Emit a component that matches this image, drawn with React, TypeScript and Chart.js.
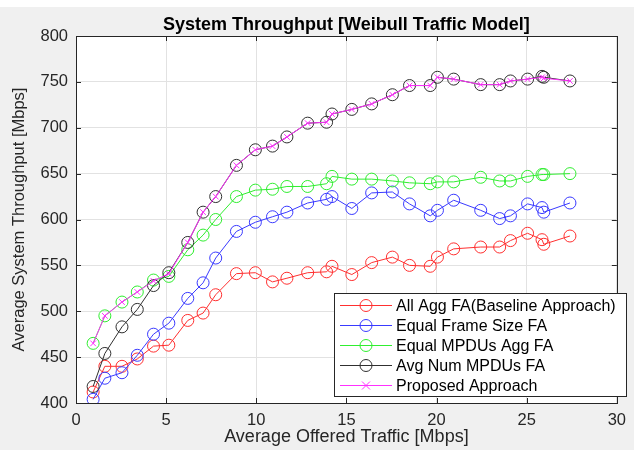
import React, { useEffect, useRef } from "react";
import { Chart, registerables } from "chart.js";

Chart.register(...registerables);

const offeredTraffic = [0.95, 1.6, 2.55, 3.4, 4.3, 5.15, 6.2, 7.05, 7.75, 8.9, 9.95, 10.9, 11.7, 12.85, 13.9, 14.2, 15.3, 16.4, 17.55, 18.5, 19.65, 20.05, 20.95, 22.45, 23.5, 24.1, 25.05, 25.85, 25.95, 27.4];

const allAggFA = [412, 440, 440, 448, 462, 463, 490, 498, 518, 541, 542, 532, 536, 542, 543, 549, 540, 553, 559, 550, 549, 559, 568, 570, 570, 577, 585, 578, 573, 582];
const equalFrameSizeFA = [404, 427, 433, 452, 475, 487, 514, 531, 558, 587, 597, 603, 608, 618, 622, 625, 612, 629, 630, 617, 604, 610, 621, 610, 601, 604, 617, 613, 608, 618];
const equalMPDUsAggFA = [465, 495, 510, 521, 534, 538, 567, 583, 600, 625, 632, 633, 636, 636, 639, 647, 644, 644, 642, 640, 639, 641, 641, 646, 642, 642, 647, 649, 649, 650];
const avgNumMPDUsFA = [418, 454, 483, 502, 528, 542, 575, 608, 625, 659, 676, 680, 690, 705, 706, 715, 720, 726, 736, 746, 746, 755, 753, 747, 747, 751, 753, 756, 755, 751];
const proposedApproach = [465, 495, 510, 521, 533, 541, 575, 608, 625, 659, 676, 680, 690, 705, 706, 715, 720, 726, 736, 746, 746, 755, 753, 747, 747, 751, 753, 755, 754, 751];

const seriesLabels = [
  "All Agg FA(Baseline Approach)",
  "Equal Frame Size FA",
  "Equal MPDUs Agg FA",
  "Avg Num MPDUs FA",
  "Proposed Approach",
];
const seriesColors = ["#ff3030", "#3a3aff", "#30ee30", "#303030", "#ff30ff"];
const seriesMarkers = ["circle", "circle", "circle", "circle", "crossRot"];

const titleText = "System Throughput [Weibull Traffic Model]";
const xTitle = "Average Offered Traffic [Mbps]";
const yTitle = "Average System Throughput [Mbps]";

const FONT = '"Liberation Sans", Arial, Helvetica, sans-serif';
const AXIS_COLOR = "#262626";

const matlabPlugin = {
  id: "matlabLook",
  beforeDraw(chart: any) {
    const { ctx, width, height, chartArea } = chart;
    ctx.save();
    ctx.fillStyle = "#ffffff";
    ctx.fillRect(0, 0, width, height);
    ctx.fillStyle = "#f0f0f0";
    ctx.fillRect(0, 7, width, height - 7);
    ctx.fillStyle = "#ffffff";
    ctx.fillRect(chartArea.left, chartArea.top, chartArea.right - chartArea.left, chartArea.bottom - chartArea.top);
    ctx.restore();
  },
  afterDraw(chart: any) {
    const { ctx, chartArea } = chart;
    const { left, right, top, bottom } = chartArea;
    const xs = chart.scales.x;
    const ys = chart.scales.y;
    ctx.save();
    // inward tick marks
    ctx.strokeStyle = AXIS_COLOR;
    ctx.lineWidth = 1;
    const tl = 5;
    ctx.beginPath();
    xs.ticks.forEach((t: any) => {
      const px = Math.round(xs.getPixelForValue(t.value)) + 0.5;
      ctx.moveTo(px, bottom);
      ctx.lineTo(px, bottom - tl);
      ctx.moveTo(px, top);
      ctx.lineTo(px, top + tl);
    });
    ys.ticks.forEach((t: any) => {
      const py = Math.round(ys.getPixelForValue(t.value)) + 0.5;
      ctx.moveTo(left, py);
      ctx.lineTo(left + tl, py);
      ctx.moveTo(right, py);
      ctx.lineTo(right - tl, py);
    });
    ctx.stroke();
    // box
    ctx.strokeRect(Math.round(left) + 0.5, Math.round(top) + 0.5, Math.round(right - left), Math.round(bottom - top));

    // title
    ctx.fillStyle = "#000000";
    ctx.font = `bold 18px ${FONT}`;
    ctx.textAlign = "center";
    ctx.textBaseline = "alphabetic";
    ctx.fillText(titleText, (left + right) / 2, 30);

    // legend
    const bx = 334, by = 293, bw = 292, bh = 103;
    ctx.fillStyle = "#ffffff";
    ctx.fillRect(bx, by, bw, bh);
    ctx.strokeStyle = AXIS_COLOR;
    ctx.strokeRect(bx + 0.5, by + 0.5, bw, bh);
    ctx.font = `16px ${FONT}`;
    ctx.textAlign = "left";
    ctx.textBaseline = "middle";
    chart.data.datasets.forEach((ds: any, i: number) => {
      const cy = by + 12.5 + i * 20;
      ctx.strokeStyle = ds.borderColor;
      ctx.lineWidth = 1;
      ctx.beginPath();
      ctx.moveTo(bx + 6, cy);
      ctx.lineTo(bx + 58, cy);
      ctx.stroke();
      const mx = bx + 32;
      ctx.beginPath();
      if (ds.pointStyle === "crossRot") {
        const r = 4;
        ctx.moveTo(mx - r, cy - r);
        ctx.lineTo(mx + r, cy + r);
        ctx.moveTo(mx - r, cy + r);
        ctx.lineTo(mx + r, cy - r);
      } else {
        ctx.arc(mx, cy, 6, 0, Math.PI * 2);
      }
      ctx.stroke();
      ctx.fillStyle = "#000000";
      ctx.fillText(ds.label, bx + 62, cy + 1);
    });
    ctx.restore();
  },
};

export default function App() {
  const canvasRef = useRef<HTMLCanvasElement | null>(null);

  useEffect(() => {
    const canvas = canvasRef.current;
    if (!canvas) return;
    const seriesData = [allAggFA, equalFrameSizeFA, equalMPDUsAggFA, avgNumMPDUsFA, proposedApproach];
    const datasets = seriesData.map((vals, i) => ({
      label: seriesLabels[i],
      data: vals.map((v, j) => ({ x: offeredTraffic[j], y: v })),
      borderColor: seriesColors[i],
      backgroundColor: "rgba(0,0,0,0)",
      borderWidth: 1,
      pointStyle: seriesMarkers[i],
      pointRadius: seriesMarkers[i] === "crossRot" ? 4 : 6,
      pointBorderWidth: 1,
      pointBorderColor: seriesColors[i],
      pointBackgroundColor: "rgba(0,0,0,0)",
      tension: 0,
      fill: false,
      order: 5 - i,
    }));

    const chart = new Chart(canvas, {
      type: "line",
      data: { datasets },
      plugins: [matlabPlugin],
      options: {
        responsive: false,
        animation: false,
        devicePixelRatio: 1,
        layout: { padding: { left: 0, right: 7, top: 36, bottom: 0 } },
        plugins: {
          legend: { display: false },
          title: { display: false },
          tooltip: { enabled: false },
        },
        scales: {
          x: {
            type: "linear",
            min: 0,
            max: 30,
            ticks: {
              stepSize: 5,
              color: AXIS_COLOR,
              padding: 8,
              font: { family: FONT, size: 16.5 },
            },
            grid: { color: "#e2e2e2", drawTicks: false },
            border: { display: false },
            title: {
              display: true,
              text: xTitle,
              color: AXIS_COLOR,
              font: { family: FONT, size: 18 },
              padding: { top: 0, bottom: 2 },
            },
            afterFit: (scale: any) => {
              scale.height = 47;
            },
          },
          y: {
            type: "linear",
            min: 400,
            max: 800,
            ticks: {
              stepSize: 50,
              color: AXIS_COLOR,
              padding: 8,
              font: { family: FONT, size: 16.5 },
            },
            grid: { color: "#e2e2e2", drawTicks: false },
            border: { display: false },
            title: {
              display: true,
              text: yTitle,
              color: AXIS_COLOR,
              font: { family: FONT, size: 16.5 },
              padding: { top: 10, bottom: 0 },
            },
            afterFit: (scale: any) => {
              scale.width = 76;
            },
          },
        },
      },
    } as any);

    return () => {
      chart.destroy();
    };
  }, []);

  return (
    <div style={{ position: "absolute", left: 0, top: 0, width: 634, height: 450 }}>
      <canvas ref={canvasRef} width={634} height={450} style={{ display: "block" }} />
    </div>
  );
}
